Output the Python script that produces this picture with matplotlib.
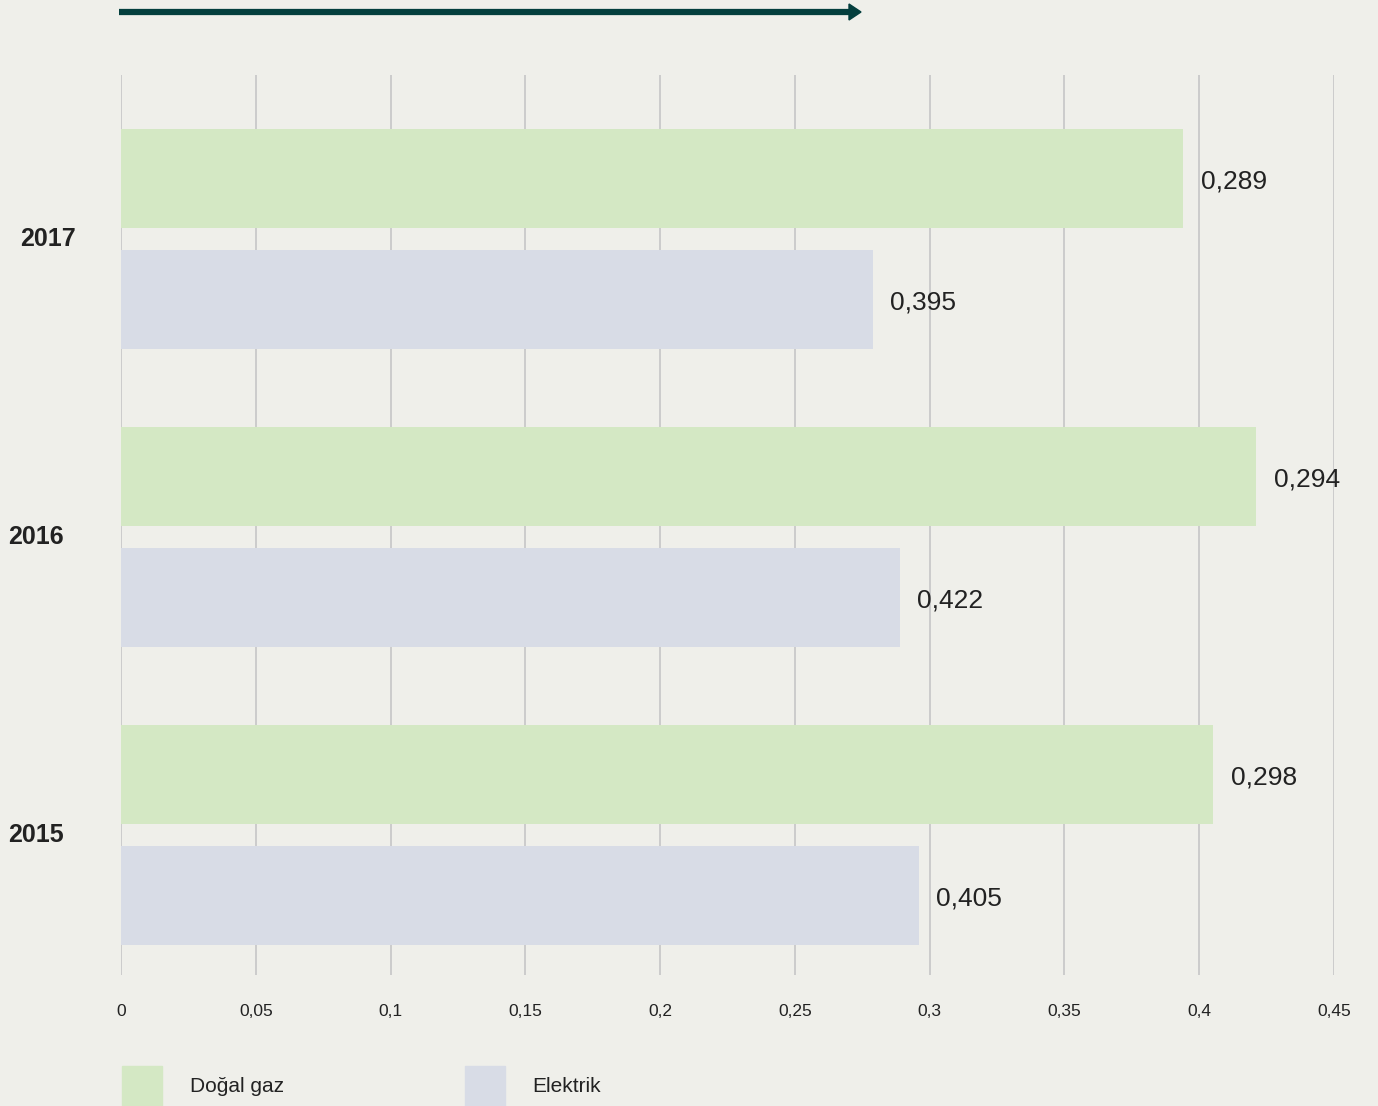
import matplotlib
matplotlib.use("Agg")
import matplotlib.pyplot as plt
from matplotlib.patches import Rectangle
from matplotlib.transforms import blended_transform_factory

plt.rcParams['font.family'] = ['Liberation Sans', 'DejaVu Sans']

# yıllar (alttan üste)
years = ['2015', '2016', '2017']
# çubuk uzunlukları
gaz_bars = [0.405, 0.421, 0.394]
elektrik_bars = [0.296, 0.289, 0.279]
# çubukların yanındaki etiketler (resimde yazılan)
gaz_labels = ['0,298', '0,294', '0,289']
elektrik_labels = ['0,405', '0,422', '0,395']
series_names = ['Doğal gaz', 'Elektrik']
xticks = [0, 0.05, 0.1, 0.15, 0.2, 0.25, 0.3, 0.35, 0.4, 0.45]
xtick_labels = ['0', '0,05', '0,1', '0,15', '0,2', '0,25', '0,3', '0,35', '0,4', '0,45']

bg = '#efefea'
c_gaz = '#d4e8c4'
c_el = '#d8dce6'
txt = '#222222'

fig = plt.figure(figsize=(13.78, 11.06), dpi=100, facecolor=bg)
ax = fig.add_axes([121 / 1378, 1 - 975 / 1106, 1213 / 1378, 900 / 1106])
ax.set_facecolor(bg)

h = 0.332
off = 0.203
ypos = range(len(years))
ax.barh([y + off for y in ypos], gaz_bars, height=h, color=c_gaz, zorder=2)
ax.barh([y - off for y in ypos], elektrik_bars, height=h, color=c_el, zorder=2)

for y, v, lab in zip(ypos, gaz_bars, gaz_labels):
    ax.annotate(lab, (v, y + off), xytext=(13, -2), textcoords='offset points',
                ha='left', va='center', fontsize=19, color=txt)
for y, v, lab in zip(ypos, elektrik_bars, elektrik_labels):
    ax.annotate(lab, (v, y - off), xytext=(12, -2), textcoords='offset points',
                ha='left', va='center', fontsize=19, color=txt)

ax.set_xlim(0, 0.45)
ax.set_ylim(-0.47, 2.55)
ax.set_xticks(xticks)
ax.set_xticklabels(xtick_labels, fontsize=12.5, color=txt)
ax.set_yticks([])
ax.tick_params(axis='x', length=0, pad=21)
ax.grid(axis='x', color='#c6c6c6', linewidth=1.2, zorder=0)
ax.set_axisbelow(True)
for s in ax.spines.values():
    s.set_visible(False)

# yıl etiketleri
trans = blended_transform_factory(ax.transAxes, ax.transData)
year_x = [-0.093, -0.093, -0.083]
for y, yr, xx in zip(ypos, years, year_x):
    ax.text(xx, y, yr, transform=trans, ha='left', va='center',
            fontsize=18, fontweight='bold', color=txt)

# üstteki ok
fig.add_artist(plt.Line2D([119 / 1378, 850 / 1378], [1 - 12 / 1106, 1 - 12 / 1106],
                          color='#043f3e', linewidth=4.5, solid_capstyle='butt'))
fig.patches.append(plt.Polygon([[849 / 1378, 1 - 4 / 1106], [861 / 1378, 1 - 12 / 1106],
                                [849 / 1378, 1 - 20 / 1106]], closed=True,
                               color='#043f3e', transform=fig.transFigure, figure=fig))

# lejant
for x0, col, name, tx in zip([122, 465], [c_gaz, c_el], series_names, [190, 532]):
    fig.add_artist(Rectangle((x0 / 1378, 0), 40 / 1378, 40 / 1106,
                             transform=fig.transFigure, color=col))
    fig.text(tx / 1378, 1 - 1087 / 1106, name, ha='left', va='center',
             fontsize=15, color=txt)

fig.savefig('out.png', dpi=100, facecolor=bg)
